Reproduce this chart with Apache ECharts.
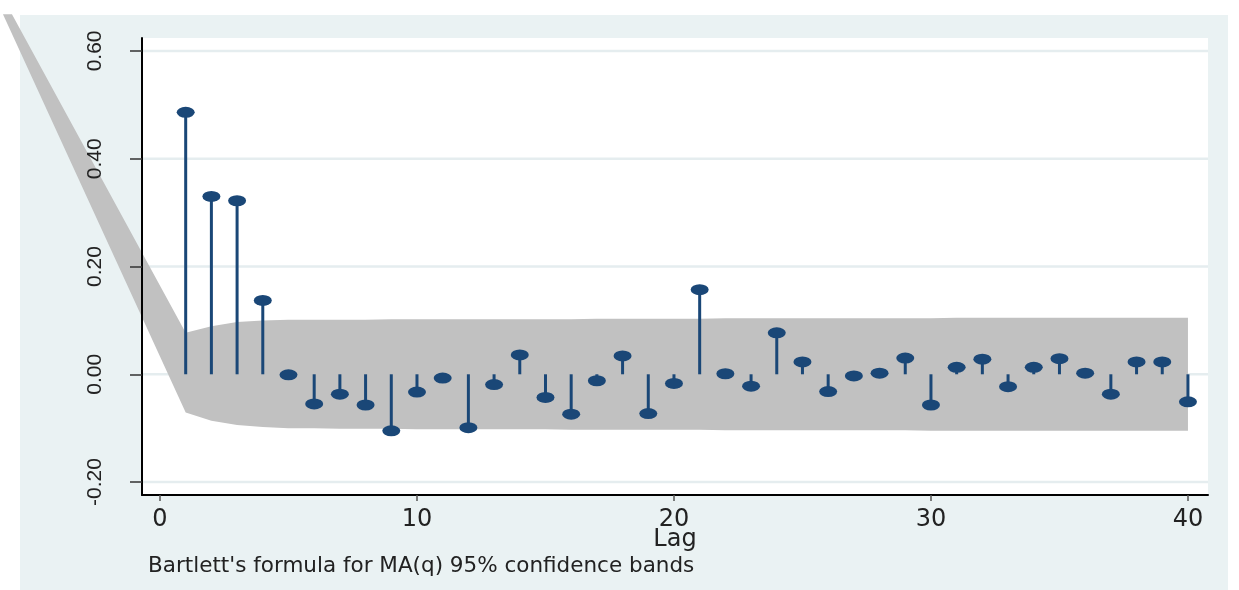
<!DOCTYPE html>
<html><head><meta charset="utf-8">
<script src="https://cdn.jsdelivr.net/npm/echarts@6/dist/echarts.min.js"></script>
<style>html,body{margin:0;padding:0;background:#fff}#c{width:1239px;height:590px}</style>
</head><body><div id="c"></div>
<script>
// ---- data ----
const lags = [1,2,3,4,5,6,7,8,9,10,11,12,13,14,15,16,17,18,19,20,21,22,23,24,25,26,27,28,29,30,31,32,33,34,35,36,37,38,39,40];
const acf = [0.486, 0.330, 0.322, 0.137, -0.001, -0.055, -0.037, -0.057, -0.105, -0.033,
             -0.007, -0.099, -0.019, 0.036, -0.043, -0.074, -0.012, 0.034, -0.073, -0.017,
             0.157, 0.001, -0.022, 0.077, 0.023, -0.032, -0.003, 0.002, 0.030, -0.057,
             0.013, 0.028, -0.023, 0.013, 0.029, 0.002, -0.037, 0.023, 0.023, -0.051];
const bandUpper = [0.077, 0.089, 0.097, 0.100, 0.101, 0.101, 0.101, 0.101, 0.102, 0.102,
                   0.102, 0.102, 0.102, 0.102, 0.102, 0.102, 0.103, 0.103, 0.103, 0.103,
                   0.103, 0.104, 0.104, 0.104, 0.104, 0.104, 0.104, 0.104, 0.104, 0.104,
                   0.105, 0.105, 0.105, 0.105, 0.105, 0.105, 0.105, 0.105, 0.105, 0.105];
const bandLower = [-0.071, -0.086, -0.094, -0.098, -0.100, -0.100, -0.101, -0.101, -0.101, -0.102,
                   -0.102, -0.102, -0.102, -0.102, -0.102, -0.103, -0.103, -0.103, -0.103, -0.103,
                   -0.103, -0.104, -0.104, -0.104, -0.104, -0.104, -0.104, -0.104, -0.104, -0.105,
                   -0.105, -0.105, -0.105, -0.105, -0.105, -0.105, -0.105, -0.105, -0.105, -0.105];
const bandTipUpper = [-5.76, 0.668];
const bandTipLower = [-6.11, 0.668];
const xTicks = [0, 10, 20, 30, 40];
const yTicks = [-0.2, 0, 0.2, 0.4, 0.6];
const xRange = [-0.7, 40.78];
const yRange = [-0.224, 0.624];
const xTitle = 'Lag';
const note = "Bartlett's formula for MA(q) 95% confidence bands";

// ---- chart ----
const navy = '#1a4777';
const chart = echarts.init(document.getElementById('c'), null, {renderer: 'canvas'});
const font = 'DejaVu Sans';
chart.setOption({
  animation: false,
  backgroundColor: '#ffffff',
  graphic: [{
    type: 'rect', z: -100, silent: true,
    shape: {x: 20, y: 15, width: 1208, height: 575},
    style: {fill: '#eaf2f3'}
  }],
  title: {
    text: note, left: 148, top: 555, padding: [0, 0, 0, 0],
    textStyle: {fontSize: 21.5, fontWeight: 'normal', color: '#222', fontFamily: font}
  },
  grid: {left: 142, top: 38, width: 1066, height: 457, show: true, backgroundColor: '#ffffff', borderWidth: 0},
  xAxis: {
    type: 'value', min: xRange[0], max: xRange[1],
    name: xTitle, nameLocation: 'middle', nameGap: 33, nameMoveOverlap: false,
    nameTextStyle: {fontSize: 24, color: '#222', fontFamily: font, verticalAlign: 'top'},
    axisLine: {show: true, onZero: false, lineStyle: {color: '#000', width: 2}},
    axisTick: {show: true, customValues: xTicks, length: 6, lineStyle: {color: '#555', width: 1.5}},
    axisLabel: {customValues: xTicks, fontSize: 24, color: '#222', margin: 13, fontFamily: font},
    splitLine: {show: false}
  },
  yAxis: {
    type: 'value', min: yRange[0], max: yRange[1], z: 10,
    axisLine: {show: true, onZero: false, lineStyle: {color: '#000', width: 2}},
    axisTick: {show: true, customValues: yTicks, length: 12, lineStyle: {color: '#333', width: 1.5}},
    axisLabel: {customValues: yTicks, rotate: 90, fontSize: 21, color: '#222', margin: 36, fontFamily: 'Liberation Sans',
                formatter: v => v.toFixed(2)},
    splitLine: {show: false}
  },
  series: [
    { // grid lines
      type: 'custom', coordinateSystem: 'cartesian2d', silent: true, z: 0,
      data: yTicks.map(v => [0, v]),
      renderItem: (params, api) => {
        const v = api.value(1);
        const a = api.coord([xRange[0], v]);
        const b = api.coord([xRange[1], v]);
        return {type: 'line', shape: {x1: a[0], y1: a[1], x2: b[0], y2: b[1]},
                style: {stroke: '#e5edef', lineWidth: 2.5}};
      }
    },
    { // confidence band
      type: 'custom', coordinateSystem: 'cartesian2d', silent: true, clip: false, z: 1,
      data: [[0, 0]],
      renderItem: (params, api) => {
        const pts = [api.coord(bandTipUpper)];
        for (let i = 0; i < lags.length; i++) pts.push(api.coord([lags[i], bandUpper[i]]));
        for (let i = lags.length - 1; i >= 0; i--) pts.push(api.coord([lags[i], bandLower[i]]));
        pts.push(api.coord(bandTipLower));
        return {type: 'polygon', shape: {points: pts}, style: {fill: '#c1c1c1'}};
      }
    },
    { // stems
      type: 'custom', coordinateSystem: 'cartesian2d', silent: true, z: 3,
      data: lags.map((l, i) => [l, acf[i]]),
      renderItem: (params, api) => {
        const a = api.coord([api.value(0), 0]);
        const b = api.coord([api.value(0), api.value(1)]);
        return {type: 'line', shape: {x1: a[0], y1: a[1], x2: b[0], y2: b[1]},
                style: {stroke: navy, lineWidth: 3}};
      }
    },
    { // markers
      type: 'scatter', z: 4, silent: true,
      symbol: 'circle', symbolSize: [18, 11],
      itemStyle: {color: navy, opacity: 1},
      data: lags.map((l, i) => [l, acf[i]])
    }
  ]
});
</script>
</body></html>
